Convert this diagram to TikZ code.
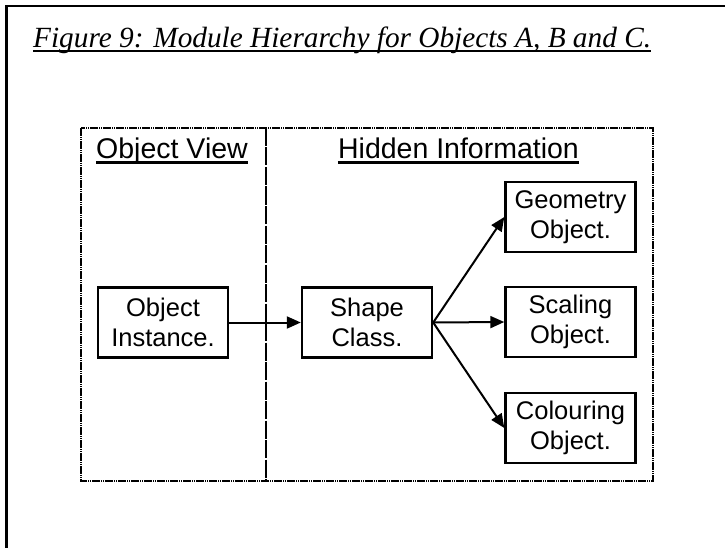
\documentclass[tikz,border=0pt]{standalone}
\usepackage{fontspec}
\setmainfont{Liberation Sans}
\newfontfamily\titlefont{Liberation Serif}
\usetikzlibrary{arrows.meta}
\begin{document}
\begin{tikzpicture}[x=1pt,y=-1pt,
  modbox/.style={draw,line width=2.4pt,minimum width=130pt,minimum height=70pt,inner sep=0pt,align=center,font=\fontsize{25.5}{30}\selectfont},
  hdr/.style={inner sep=0pt,anchor=base,font=\fontsize{28.5}{32}\selectfont},
  conn/.style={line width=2pt,-{Triangle[length=14pt,width=12pt]}},
  region/.style={line width=1.8pt,dash pattern=on 8pt off 1pt on 1pt off 1pt on 1pt off 1pt},
  divline/.style={line width=2pt,dash pattern=on 18pt off 1.5pt}]
\useasboundingbox (0,0) rectangle (725,548);
% outer frame (only left and top visible)
\draw[line width=2.8pt] (6.5,548) -- (6.5,6) -- (725,6);
% title
\node[inner sep=0pt,anchor=base west,font=\titlefont\itshape\fontsize{29.3}{32}\selectfont] (title) at (33,48) {Figure 9: Module Hierarchy for Objects A, B and C.};
\draw[line width=2.2pt] ([yshift=-3pt]title.base west) -- ([yshift=-3pt]title.base east);
% dashed region
\coordinate (tl) at (81,128);
\coordinate (br) at (653,481);
\draw[region] (tl) rectangle (br);
\coordinate (dt) at (266,128);
\coordinate (db) at (266,481);
\draw[divline] (dt) -- (db);
% headers
\node[hdr] (ov) at (172,159) {Object View};
\draw[line width=2.2pt] ([yshift=-3.5pt]ov.base west) -- ([yshift=-3.5pt]ov.base east);
\node[hdr] (hi) at (458.5,159) {Hidden Information};
\draw[line width=2.2pt] ([yshift=-3.5pt]hi.base west) -- ([yshift=-3.5pt]hi.base east);
% modules
\node[modbox] (oi) at (163,322.5) {Object\\Instance.};
\node[modbox] (sc) at (367,322.5) {Shape\\Class.};
\node[modbox] (geo) at (570.5,217) {Geometry\\Object.};
\node[modbox] (scl) at (570.5,322) {Scaling\\Object.};
\node[modbox] (col) at (570.5,428) {Colouring\\Object.};
% connectors
\draw[conn] (oi.east) -- (sc.west);
\draw[conn] (sc.east) -- (geo.west);
\draw[conn] (sc.east) -- (scl.west);
\draw[conn] (sc.east) -- (col.west);
\end{tikzpicture}
\end{document}
